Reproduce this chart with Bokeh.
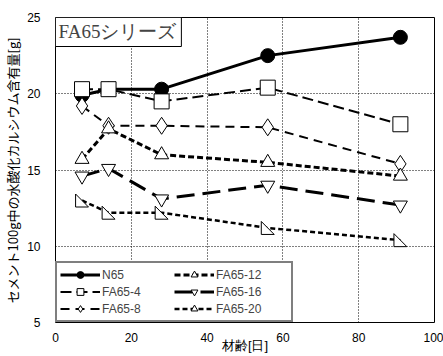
from bokeh.plotting import figure
from bokeh.models import FixedTicker, Legend, LegendItem, Label
from bokeh.embed import file_html
from bokeh.resources import INLINE

age_days = [7, 14, 28, 56, 91]
n65 = [19.9, 20.3, 20.3, 22.5, 23.7]
fa65_4 = [20.3, 20.3, 19.5, 20.4, 18.0]
fa65_8 = [19.2, 17.9, 17.9, 17.8, 15.4]
fa65_12 = [15.7, 17.7, 16.0, 15.5, 14.6]
fa65_16 = [14.6, 15.1, 13.1, 14.0, 12.7]
fa65_20 = [13.0, 12.2, 12.2, 11.2, 10.4]
x_ticks = [0, 20, 40, 60, 80, 100]
y_ticks = [5, 10, 15, 20, 25]

X_RANGE = (0, 100)
Y_RANGE = (5, 25)
FRAME_W, FRAME_H = 382, 305

p = figure(width=443, height=356, x_range=X_RANGE, y_range=Y_RANGE,
           output_backend="svg", toolbar_location=None,
           min_border_left=52, min_border_right=9, min_border_top=17, min_border_bottom=34)
p.background_fill_color = "white"
p.border_fill_color = "white"
p.outline_line_color = "black"
p.outline_line_width = 1

for ax in (p.xaxis[0], p.yaxis[0]):
    ax.axis_line_color = None
    ax.major_tick_line_color = None
    ax.minor_tick_line_color = None
    ax.major_label_text_font = "Liberation Sans"
    ax.major_label_text_font_size = "12px"
    ax.major_label_text_color = "black"
    ax.axis_label_text_font_size = "13px"
    ax.axis_label_text_font_style = "normal"
    ax.axis_label_text_color = "black"
p.xaxis.ticker = FixedTicker(ticks=x_ticks)
p.yaxis.ticker = FixedTicker(ticks=y_ticks)
p.xaxis.major_label_standoff = 4
p.yaxis.major_label_standoff = 9
p.xaxis.axis_label = "材齢[日]"
p.xaxis.axis_label_text_font = "Liberation Sans"
p.xaxis.axis_label_standoff = -7
p.yaxis.axis_label = "セメント100g中の水酸化カルシウム含有量[g]"
p.yaxis.axis_label_text_font = "Noto Sans CJK JP"
p.yaxis.axis_label_standoff = 2

for g in (p.xgrid[0], p.ygrid[0]):
    g.grid_line_color = "black"
    g.grid_line_dash = "1 2"
    g.grid_line_width = 1

items = []
r = p.line(age_days, n65, line_color="black", line_width=3)
m = p.scatter(age_days, n65, marker="circle", size=14, fill_color="black", line_color="black")
items.append(LegendItem(label="N65", renderers=[r, m]))

r = p.line(age_days, fa65_4, line_color="black", line_width=2, line_dash="11 5")
m = p.scatter(age_days, fa65_4, marker="square", size=15, fill_color="white", line_color="black", line_width=1)
items.append(LegendItem(label="FA65-4", renderers=[r, m]))

r = p.line(age_days, fa65_8, line_color="black", line_width=2, line_dash="9 6")
m = p.scatter(age_days, fa65_8, marker="diamond", size=17, fill_color="white", line_color="black", line_width=1)
items.append(LegendItem(label="FA65-8", renderers=[r, m]))

r = p.line(age_days, fa65_12, line_color="black", line_width=3, line_dash="6 3")
m = p.scatter(age_days, fa65_12, marker="triangle", size=14, fill_color="white", line_color="black", line_width=1)
items.append(LegendItem(label="FA65-12", renderers=[r, m]))

r = p.line(age_days, fa65_16, line_color="black", line_width=3, line_dash="18 8")
m = p.scatter(age_days, fa65_16, marker="inverted_triangle", size=14, fill_color="white", line_color="black", line_width=1)
items.append(LegendItem(label="FA65-16", renderers=[r, m]))

# right-triangle markers for FA65-20, built around each data point (half-size in pixels)
r = p.line(age_days, fa65_20, line_color="black", line_width=2.5, line_dash="5 3")
hx = 6.5 * (X_RANGE[1] - X_RANGE[0]) / FRAME_W
hy = 6.5 * (Y_RANGE[1] - Y_RANGE[0]) / FRAME_H
tri_xs = [[x - hx, x - hx, x + hx] for x in age_days]
tri_ys = [[y + hy, y - hy, y - hy] for y in fa65_20]
p.patches(tri_xs, tri_ys, fill_color="white", line_color="black", line_width=1)
m = p.scatter(age_days, fa65_20, marker="triangle", size=0, fill_color="white", line_color="black", line_width=1)
items.append(LegendItem(label="FA65-20", renderers=[r, m]))

legend = Legend(items=items, location="bottom_left", nrows=3, orientation="vertical",
                glyph_width=40, glyph_height=17, spacing=0, padding=3, margin=0,
                label_text_font="Liberation Sans", label_text_font_size="12px",
                label_standoff=2, label_height=17, label_width=72,
                border_line_color="black", border_line_width=2,
                background_fill_color="white", background_fill_alpha=1)
p.add_layout(legend)

title = Label(x=0, y=25, text="FA65シリーズ", text_font="Liberation Serif", text_font_size="19px",
              text_align="left", text_baseline="top", padding=(3, 5, 3, 5),
              border_line_color="black", border_line_width=1,
              background_fill_color="white", background_fill_alpha=1)
p.add_layout(title)

open("out.html", "w").write(file_html(p, INLINE))
